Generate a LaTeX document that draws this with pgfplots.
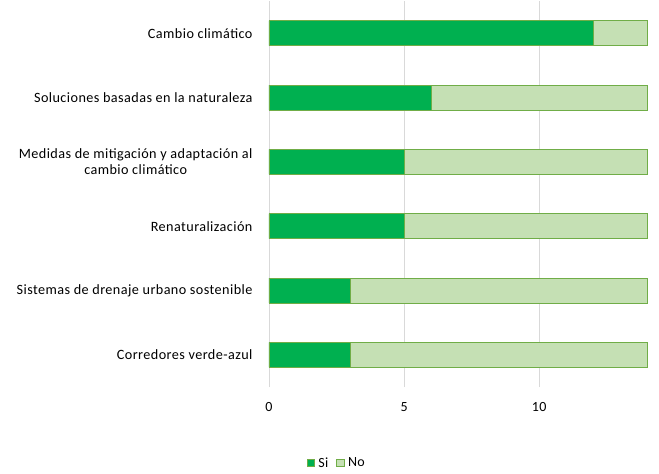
\documentclass[border=0pt]{standalone}
\usepackage{pgfplots}
\pgfplotsset{compat=1.18}
\usepackage{fontspec}
\setmainfont{Carlito}
\newfontfamily\lab[LetterSpace=3]{Carlito}
\definecolor{si}{HTML}{00B050}
\definecolor{no}{HTML}{C5E0B4}
\definecolor{bord}{HTML}{70AD47}
\definecolor{gridc}{HTML}{D9D9D9}
\begin{document}
\begin{tikzpicture}
\begin{axis}[
  scale only axis,
  width=381pt, height=386pt,
  xbar stacked,
  bar width=25pt,
  xmin=0, xmax=14.1,
  ymin=-0.5, ymax=5.5,
  ytick={0,1,2,3,4,5},
  yticklabels={Corredores verde-azul, Sistemas de drenaje urbano sostenible, Renaturalización, {Medidas de mitigación y adaptación al\\cambio climático}, Soluciones basadas en la naturaleza, Cambio climático},
  yticklabel style={align=center, font=\lab\fontsize{14.2}{16.5}\selectfont, xshift=-13pt},
  xtick={0,5,10},
  xticklabel style={font=\lab\fontsize{14}{16}\selectfont, yshift=-12pt},
  /pgf/number format/assume math mode=true,
  major tick length=0pt,
  axis line style={draw=none},
  xmajorgrids, grid style={gridc, line width=0.8pt},
  legend columns=2,
  legend style={at={(0.178,-0.197)}, anchor=center, draw=none, font=\lab\fontsize{14}{16}\selectfont, /tikz/every odd column/.append style={column sep=1.5pt}, /tikz/every even column/.append style={column sep=6pt}},
  legend image code/.code={\draw[#1] (0pt,-3.5pt) rectangle (7.5pt,4pt);},
]
\addplot[fill=si, draw=bord, line width=0.6pt] coordinates {(3,0) (3,1) (5,2) (5,3) (6,4) (12,5)};
\addplot[fill=no, draw=bord, line width=0.6pt] coordinates {(11,0) (11,1) (9,2) (9,3) (8,4) (2,5)};
\legend{Si, No}
\end{axis}
\path[use as bounding box] (-269pt,-87pt) rectangle (390pt,387pt);
\end{tikzpicture}
\end{document}
